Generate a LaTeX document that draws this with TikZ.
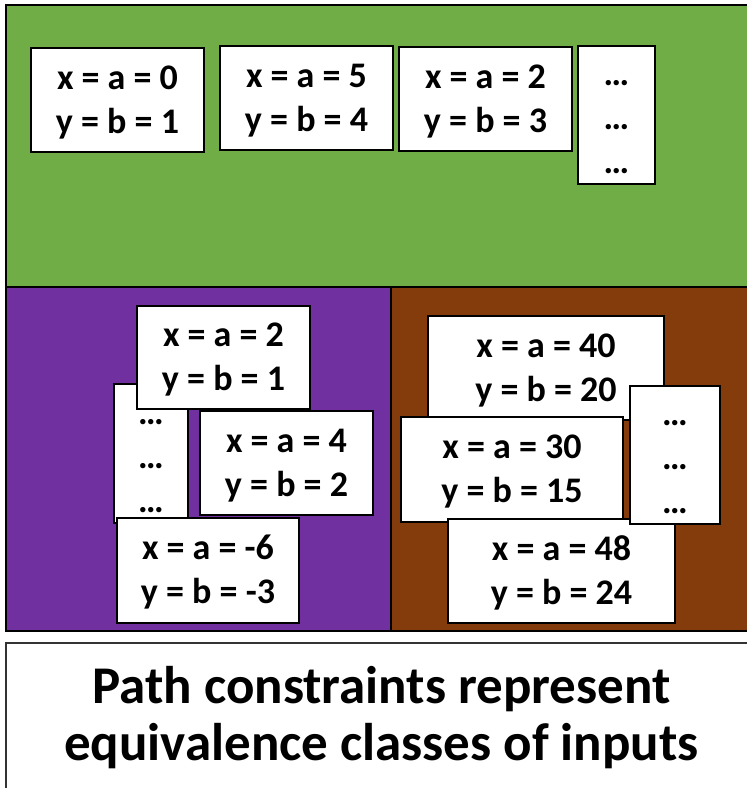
\documentclass[tikz,border=0pt]{standalone}
\usepackage{fontspec}
\setmainfont{Carlito}
\definecolor{cgreen}{HTML}{70AD47}
\definecolor{cpurple}{HTML}{7030A0}
\definecolor{cbrown}{HTML}{843C0C}
\newcommand{\hifix}{\rule{0pt}{29pt}}
\newcommand{\lowfix}{\rule[-7pt]{0pt}{7pt}}
\newcommand{\topfix}{\rule{0pt}{30pt}}
\begin{document}
\begin{tikzpicture}[x=1pt,y=-1pt,
  region/.style={draw=black,line width=2.5pt},
  valbox/.style={draw=black,line width=2pt,fill=white,inner sep=0pt,align=center,
    font=\bfseries\fontsize{36}{44}\selectfont},
  title/.style={inner sep=0pt,anchor=base,font=\bfseries\fontsize{53}{58}\selectfont}]
\useasboundingbox (0,0) rectangle (747,788);
\begin{scope}
\clip (0,0) rectangle (747,788);
% regions
\path[region,fill=cgreen] (6,5) rectangle (760,287);
\path[region,fill=cpurple] (6,287) rectangle (391,631);
\path[region,fill=cbrown] (391,287) rectangle (760,631);
\draw[black!80,line width=1.5pt,fill=white] (6,643) rectangle (760,800);
\end{scope}
% green region boxes
\node[valbox,minimum width=173pt,minimum height=104pt] (g1) at (117.5,100) {\hifix x = a = 0\\y = b = 1\lowfix};
\node[valbox,minimum width=173pt,minimum height=104pt] (g2) at (306.5,98) {\hifix x = a = 5\\y = b = 4\lowfix};
\node[valbox,minimum width=173pt,minimum height=104pt] (g3) at (485.5,99) {\hifix x = a = 2\\y = b = 3\lowfix};
\node[valbox,minimum width=77pt,minimum height=138pt] (gd) at (616.5,115) {\topfix…\\…\\…};
% purple region boxes
\node[valbox,minimum width=74pt,minimum height=139pt] (pd) at (151,453.5) {\topfix…\\…\\…};
\node[valbox,minimum width=173pt,minimum height=103pt] (p1) at (223.5,357.5) {\hifix x = a = 2\\y = b = 1\lowfix};
\node[valbox,minimum width=173pt,minimum height=104pt] (p2) at (286.5,463) {\hifix x = a = 4\\y = b = 2\lowfix};
\node[valbox,minimum width=182pt,minimum height=105pt] (p3) at (208,570.5) {\hifix x = a = -6\\y = b = -3\lowfix};
% brown region boxes
\node[valbox,minimum width=236pt,minimum height=104pt] (b1) at (546,368) {\hifix x = a = 40\\y = b = 20\lowfix};
\node[valbox,minimum width=222pt,minimum height=105pt] (b2) at (512,469.5) {\hifix x = a = 30\\y = b = 15\lowfix};
\node[valbox,minimum width=227pt,minimum height=104pt] (b3) at (561.5,571) {\hifix x = a = 48\\y = b = 24\lowfix};
\node[valbox,minimum width=90pt,minimum height=138pt] (bd) at (675,455) {\topfix…\\…\\…};
% caption
\node[title] (cap1) at (381.5,703) {Path constraints represent};
\node[title] (cap2) at (381.5,760) {equivalence classes of inputs};
\end{tikzpicture}
\end{document}
